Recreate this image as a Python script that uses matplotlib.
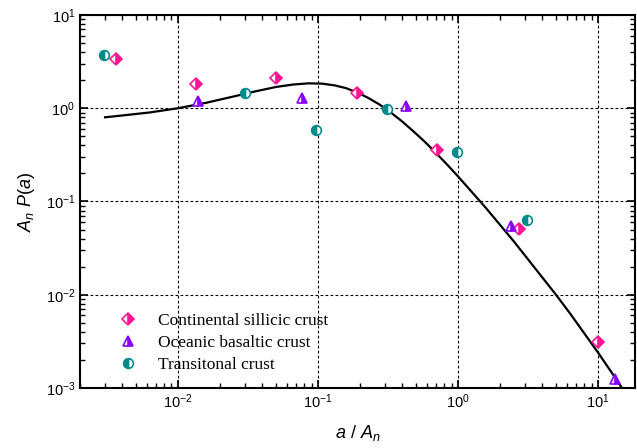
import numpy as np
import matplotlib
matplotlib.use("Agg")
import matplotlib.pyplot as plt
from matplotlib.lines import Line2D

plt.rcParams["font.family"] = ["Liberation Sans", "DejaVu Sans"]
plt.rcParams["mathtext.fontset"] = "custom"
plt.rcParams["mathtext.rm"] = "Liberation Sans"
plt.rcParams["mathtext.it"] = "Liberation Sans:italic"

# data
cont_x = [0.0036, 0.0134, 0.050, 0.19, 0.71, 2.73, 10.0]
cont_y = [3.37, 1.81, 2.10, 1.45, 0.353, 0.051, 0.0031]

ocean_x = [0.0139, 0.077, 0.425, 2.39, 13.2]
ocean_y = [1.19, 1.28, 1.05, 0.054, 0.00125]

trans_x = [0.00296, 0.0301, 0.0968, 0.311, 0.985, 3.11]
trans_y = [3.72, 1.45, 0.58, 0.975, 0.337, 0.064]

# fitted curve, points (log10 values)
curve_logx = [-2.52, -2.4, -2.2, -2.0, -1.8, -1.6, -1.45, -1.30, -1.18, -1.07,
              -0.97, -0.88, -0.80, -0.72, -0.64, -0.56, -0.48, -0.40, -0.32, -0.24,
              -0.16, -0.08, 0.0, 0.10, 0.20, 0.30, 0.40, 0.50, 0.60, 0.70,
              0.80, 0.90, 1.00, 1.10, 1.18]
curve_logy = [-0.097, -0.078, -0.045, 0.0, 0.058, 0.127, 0.180, 0.228, 0.254, 0.267,
              0.264, 0.245, 0.216, 0.170, 0.110, 0.040, -0.045, -0.140, -0.245, -0.355,
              -0.475, -0.60, -0.73, -0.90, -1.07, -1.25, -1.43, -1.62, -1.81, -2.00,
              -2.20, -2.41, -2.62, -2.84, -3.02]

labels = ["Continental sillicic crust", "Oceanic basaltic crust", "Transitonal crust"]
pink, purple, teal = "#ff1493", "#8a00ff", "#008b8b"

fig = plt.figure(figsize=(6.37, 4.48), dpi=100)
ax = fig.add_axes([0.1256, 0.134, 0.8714, 0.8325])

ax.plot(10 ** np.array(curve_logx), 10 ** np.array(curve_logy), color="k", lw=1.6, zorder=2)

ax.plot(cont_x, cont_y, ls="none", marker="D", ms=6.5, color=pink, fillstyle="right",
        markerfacecoloralt="white", mew=1.2, zorder=3)
ax.plot(ocean_x, ocean_y, ls="none", marker="^", ms=7.5, color=purple, fillstyle="right",
        markerfacecoloralt="white", mew=1.2, zorder=3)
ax.plot(trans_x, trans_y, ls="none", marker="o", ms=7, color=teal, fillstyle="left",
        markerfacecoloralt="white", mew=1.2, zorder=3)

ax.set_xscale("log")
ax.set_yscale("log")
ax.set_xlim(0.002, 18.4)
ax.set_ylim(1e-3, 10)

ax.grid(True, which="major", color="k", ls=(0, (2.5, 2)), lw=0.8)
ax.tick_params(which="both", direction="in", top=True, right=True, labelsize=10.5)
ax.tick_params(which="major", length=6, width=1.2)
ax.tick_params(which="minor", length=3.5, width=1)
for s in ax.spines.values():
    s.set_linewidth(1.5)

ax.set_xlabel(r"$a\ /\ A_n$", fontsize=13, labelpad=8)
ax.set_ylabel(r"$A_n\ P(a)$", fontsize=13, labelpad=6)

handles = [
    Line2D([], [], ls="none", marker="D", ms=6.5, color=pink, fillstyle="right",
           markerfacecoloralt="white", mew=1.2),
    Line2D([], [], ls="none", marker="^", ms=7.5, color=purple, fillstyle="right",
           markerfacecoloralt="white", mew=1.2),
    Line2D([], [], ls="none", marker="o", ms=7, color=teal, fillstyle="left",
           markerfacecoloralt="white", mew=1.2),
]
ax.legend(handles, labels, loc="upper left", bbox_to_anchor=(0.174, 0.321),
          bbox_transform=fig.transFigure, frameon=False, handlelength=1.0,
          handletextpad=1.2, labelspacing=0.35, borderpad=0,
          prop={"family": "Liberation Serif", "size": 12.5})

fig.savefig("out.png", dpi=100)
